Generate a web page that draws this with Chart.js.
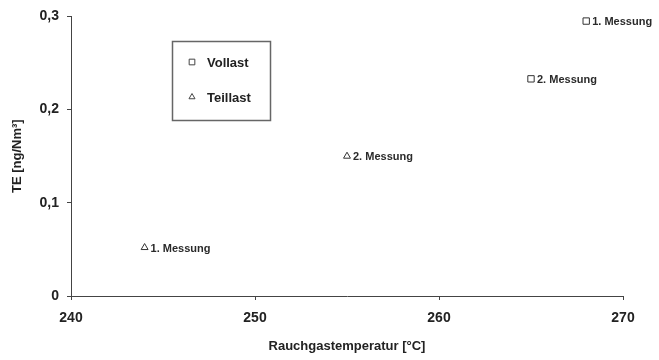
<!DOCTYPE html>
<html>
<head>
<meta charset="utf-8">
<script src="https://cdn.jsdelivr.net/npm/chart.js@4"></script>
<style>
  html, body { margin: 0; padding: 0; background: #fff; }
  #wrap { width: 659px; height: 360px; }
</style>
</head>
<body>
<div id="wrap"><canvas id="teChart" width="659" height="360"></canvas></div>
<script>
// Data
const vollastTemp = [268, 265];
const vollastTE = [0.295, 0.233];
const vollastNames = ['1. Messung', '2. Messung'];

const teillastTemp = [244, 255];
const teillastTE = [0.052, 0.15];
const teillastNames = ['1. Messung', '2. Messung'];

const seriesNames = ['Vollast', 'Teillast'];
const xTicks = [240, 250, 260, 270];
const yTicks = [0, 0.1, 0.2, 0.3];

const ink = '#222';

function toPoints(xs, ys) {
  return xs.map((x, i) => ({ x: x, y: ys[i] }));
}

// draws "n. Messung" next to each point
const pointLabels = {
  id: 'pointLabels',
  afterDatasetsDraw(chart) {
    const ctx = chart.ctx;
    ctx.save();
    ctx.font = 'bold 11px "Liberation Sans", Arial, sans-serif';
    ctx.fillStyle = '#2a2a2a';
    ctx.textBaseline = 'middle';
    chart.data.datasets.forEach((ds, di) => {
      const meta = chart.getDatasetMeta(di);
      meta.data.forEach((pt, i) => {
        ctx.fillText(ds.names[i], pt.x + 6, pt.y + 1);
      });
    });
    ctx.restore();
  }
};

// boxed legend inside the plot
const boxLegend = {
  id: 'boxLegend',
  afterDraw(chart) {
    const ctx = chart.ctx;
    const bx = 172, by = 41, bw = 98, bh = 79;
    ctx.save();
    ctx.strokeStyle = '#666';
    ctx.lineWidth = 1.5;
    ctx.strokeRect(bx + 0.5, by + 0.5, bw, bh);
    ctx.font = 'bold 13px "Liberation Sans", Arial, sans-serif';
    ctx.textBaseline = 'middle';
    chart.data.datasets.forEach((ds, di) => {
      const y = by + 21 + di * 35;
      const x = bx + 20;
      ctx.fillStyle = '#fff';
      ctx.strokeStyle = '#444';
      ctx.lineWidth = 1;
      Chart.helpers.drawPoint(ctx, {
        pointStyle: ds.pointStyle,
        radius: ds.pointStyle === 'rect' ? 4 : 3.5,
        borderWidth: 1
      }, x, y);
      ctx.fillStyle = ink;
      ctx.fillText(ds.label, bx + 35, y + 1);
    });
    ctx.restore();
  }
};

Chart.defaults.font.family = '"Liberation Sans", Arial, sans-serif';

new Chart(document.getElementById('teChart'), {
  type: 'scatter',
  data: {
    datasets: [{
      label: seriesNames[0],
      data: toPoints(vollastTemp, vollastTE),
      names: vollastNames,
      pointStyle: 'rect',
      pointRadius: 4.5,
      backgroundColor: '#fff',
      borderColor: '#333',
      borderWidth: 1
    }, {
      label: seriesNames[1],
      data: toPoints(teillastTemp, teillastTE),
      names: teillastNames,
      pointStyle: 'triangle',
      pointRadius: 4,
      backgroundColor: '#fff',
      borderColor: '#333',
      borderWidth: 1
    }]
  },
  options: {
    responsive: false,
    animation: false,
    layout: { padding: { top: 15, right: 36, left: 10, bottom: 6 } },
    plugins: {
      legend: { display: false },
      tooltip: { enabled: false }
    },
    scales: {
      x: {
        type: 'linear',
        min: xTicks[0],
        max: xTicks[xTicks.length - 1],
        afterBuildTicks: (s) => { s.ticks = xTicks.map(v => ({ value: v })); },
        grid: { drawOnChartArea: false, drawTicks: true, tickLength: 4, color: '#444' },
        border: { display: true, color: '#444', width: 1 },
        ticks: {
          color: ink,
          padding: 10,
          font: { size: 14, weight: 'bold' }
        },
        title: {
          display: true,
          text: 'Rauchgastemperatur [°C]',
          color: ink,
          font: { size: 13, weight: 'bold' },
          padding: { top: 4, bottom: 0 }
        },
        afterFit: (s) => { s.height = 58; }
      },
      y: {
        min: yTicks[0],
        max: yTicks[yTicks.length - 1],
        afterBuildTicks: (s) => { s.ticks = yTicks.map(v => ({ value: v })); },
        grid: { drawOnChartArea: false, drawTicks: true, tickLength: 4, color: '#444' },
        border: { display: true, color: '#444', width: 1 },
        ticks: {
          color: ink,
          padding: 8,
          font: { size: 14, weight: 'bold' },
          callback: (v) => String(Math.round(v * 10) / 10).replace('.', ',')
        },
        title: {
          display: true,
          text: 'TE [ng/Nm³]',
          color: ink,
          font: { size: 13, weight: 'bold' },
          padding: { top: 0, bottom: 4 }
        },
        afterFit: (s) => { s.width = 61; }
      }
    }
  },
  plugins: [pointLabels, boxLegend]
});
</script>
</body>
</html>
